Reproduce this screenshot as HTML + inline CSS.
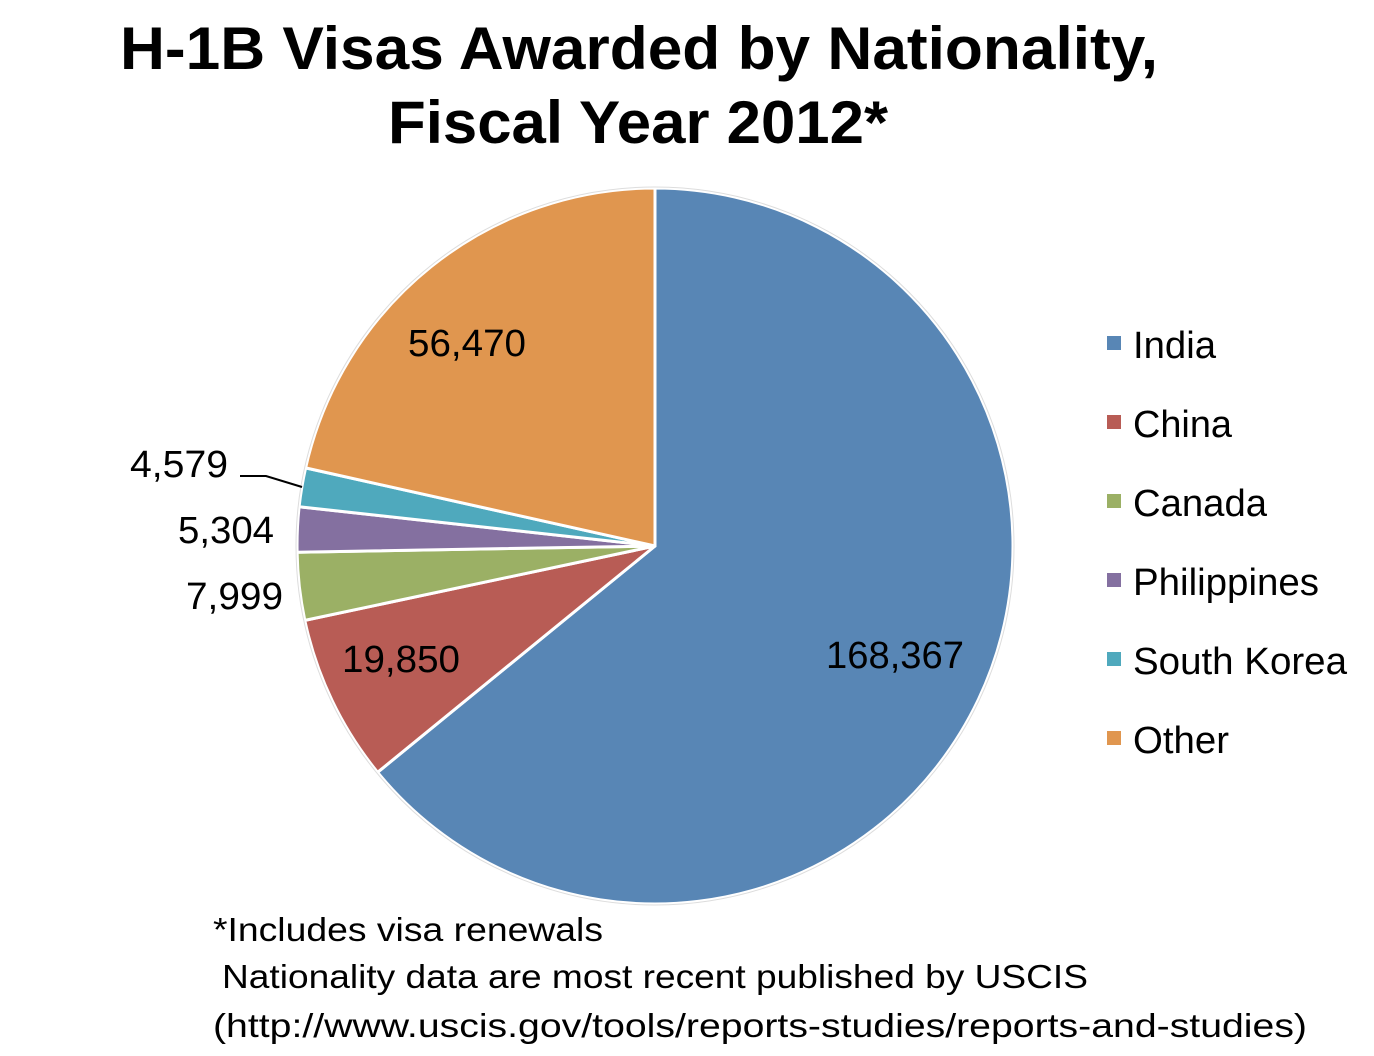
<!DOCTYPE html>
<html><head><meta charset="utf-8"><style>
html,body{margin:0;padding:0;background:#fff;}
body{width:1374px;height:1056px;overflow:hidden;position:relative;font-family:"Liberation Sans",Arial,sans-serif;}
</style></head><body>
<svg width="1374" height="1056" viewBox="0 0 1374 1056" xmlns="http://www.w3.org/2000/svg" style="position:absolute;left:0;top:0">
<g font-family="Liberation Sans, Arial, sans-serif" font-weight="bold" font-size="60" fill="#000">
<text x="120" y="69" textLength="1038" lengthAdjust="spacingAndGlyphs">H-1B Visas Awarded by Nationality,</text>
<text x="388" y="143" textLength="500" lengthAdjust="spacingAndGlyphs">Fiscal Year 2012*</text>
</g>
<g stroke="#fff" stroke-width="3" stroke-linejoin="round">
<path d="M655,546 L655,188 A358,358 0 1,1 377.6,772.3 Z" fill="#5886b5"/>
<path d="M655,546 L377.6,772.3 A358,358 0 0,1 304.8,620.4 Z" fill="#b85c55"/>
<path d="M655,546 L304.8,620.4 A358,358 0 0,1 297.1,552.2 Z" fill="#9bb065"/>
<path d="M655,546 L297.1,552.2 A358,358 0 0,1 299.1,506.7 Z" fill="#8470a0"/>
<path d="M655,546 L299.1,506.7 A358,358 0 0,1 305.6,467.9 Z" fill="#4fa9bd"/>
<path d="M655,546 L305.6,467.9 A358,358 0 0,1 655,188 Z" fill="#e0964f"/>
</g>
<circle cx="655" cy="546" r="359" fill="none" stroke="#ddd" stroke-width="1"/>
<g font-family="Liberation Sans, Arial, sans-serif" font-size="38" fill="#000">
<text x="408" y="356" textLength="118" lengthAdjust="spacingAndGlyphs">56,470</text>
<text x="826" y="668" textLength="138" lengthAdjust="spacingAndGlyphs">168,367</text>
<text x="342" y="672" textLength="118" lengthAdjust="spacingAndGlyphs">19,850</text>
<text x="130" y="477" textLength="98" lengthAdjust="spacingAndGlyphs">4,579</text>
<text x="178" y="543" textLength="96" lengthAdjust="spacingAndGlyphs">5,304</text>
<text x="186" y="609" textLength="97" lengthAdjust="spacingAndGlyphs">7,999</text>
</g>
<path d="M240,476 L266,476 L302,487" fill="none" stroke="#000" stroke-width="2"/>
<g font-family="Liberation Sans, Arial, sans-serif" font-size="38" fill="#000">
<rect x="1107" y="336" width="14" height="14" fill="#5886b5"/><text x="1133" y="358" textLength="83" lengthAdjust="spacingAndGlyphs">India</text>
<rect x="1107" y="415" width="14" height="14" fill="#b85c55"/><text x="1133" y="437" textLength="99" lengthAdjust="spacingAndGlyphs">China</text>
<rect x="1107" y="494" width="14" height="14" fill="#9bb065"/><text x="1133" y="516" textLength="134" lengthAdjust="spacingAndGlyphs">Canada</text>
<rect x="1107" y="573" width="14" height="14" fill="#8470a0"/><text x="1133" y="595" textLength="186" lengthAdjust="spacingAndGlyphs">Philippines</text>
<rect x="1107" y="652" width="14" height="14" fill="#4fa9bd"/><text x="1133" y="674" textLength="214" lengthAdjust="spacingAndGlyphs">South Korea</text>
<rect x="1107" y="731" width="14" height="14" fill="#e0964f"/><text x="1133" y="753" textLength="96" lengthAdjust="spacingAndGlyphs">Other</text>
</g>
<g font-family="Liberation Sans, Arial, sans-serif" font-size="33" fill="#000">
<text x="213" y="941" textLength="390" lengthAdjust="spacingAndGlyphs">*Includes visa renewals</text>
<text x="222" y="988" textLength="866" lengthAdjust="spacingAndGlyphs">Nationality data are most recent published by USCIS</text>
<text x="213" y="1037" textLength="1094" lengthAdjust="spacingAndGlyphs">(http://www.uscis.gov/tools/reports-studies/reports-and-studies)</text>
</g>
</svg>
</body></html>
